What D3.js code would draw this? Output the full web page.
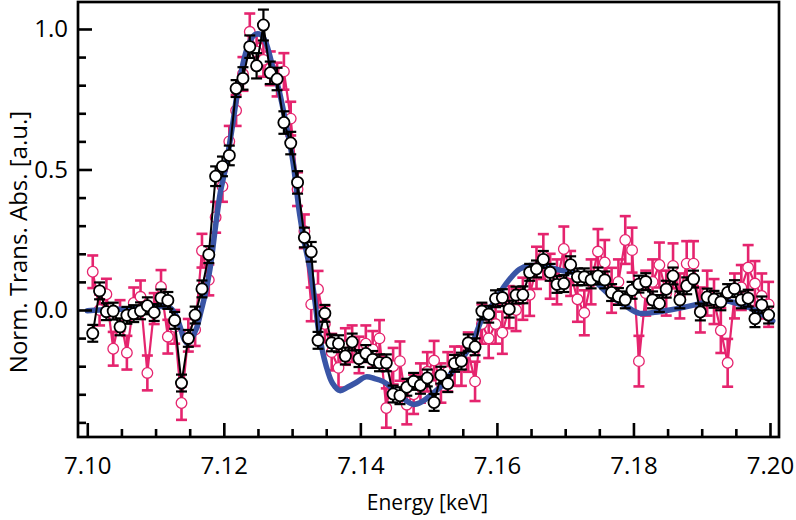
<!DOCTYPE html>
<html>
<head>
<meta charset="utf-8">
<script src="https://cdn.jsdelivr.net/npm/d3@7"></script>
<style>
  html, body { margin: 0; padding: 0; background: #ffffff; }
  svg { display: block; }
  text { font-family: "Open Sans", "Noto Sans", sans-serif; fill: #000; }
</style>
</head>
<body>
<svg id="chart" width="796" height="520"></svg>
<script>
// ---------- data ----------
const energy = [
  7.1008,7.1018,7.1028,7.1038,7.1048,7.1058,7.1068,7.1078,7.1088,7.1098,
  7.1108,7.1118,7.1128,7.1138,7.1148,7.1158,7.1168,7.1178,7.1188,7.1198,
  7.1208,7.1218,7.1228,7.1238,7.1248,7.1258,7.1268,7.1278,7.1288,7.1298,
  7.1308,7.1318,7.1328,7.1338,7.1348,7.1358,7.1368,7.1378,7.1388,7.1398,
  7.1408,7.1418,7.1428,7.1438,7.1448,7.1458,7.1468,7.1478,7.1488,7.1498,
  7.1508,7.1518,7.1528,7.1538,7.1548,7.1558,7.1568,7.1578,7.1588,7.1598,
  7.1608,7.1618,7.1628,7.1638,7.1648,7.1658,7.1668,7.1678,7.1688,7.1698,
  7.1708,7.1718,7.1728,7.1738,7.1748,7.1758,7.1768,7.1778,7.1788,7.1798,
  7.1808,7.1818,7.1828,7.1838,7.1848,7.1858,7.1868,7.1878,7.1888,7.1898,
  7.1908,7.1918,7.1928,7.1938,7.1948,7.1958,7.1968,7.1978,7.1988,7.1998
];

// black open circles (averaged measurement)
const blackValues = [
  -0.083, 0.068,-0.006,-0.004,-0.060,-0.019,-0.013,-0.003, 0.015,-0.009,
   0.043, 0.034,-0.037,-0.260,-0.101,-0.018, 0.075, 0.197, 0.476, 0.511,
   0.550, 0.788, 0.824, 0.937, 0.869, 1.014, 0.844, 0.822, 0.667, 0.594,
   0.454, 0.258, 0.207,-0.108,-0.012,-0.117,-0.120,-0.164,-0.114,-0.173,
  -0.155,-0.176,-0.188,-0.188,-0.299,-0.305,-0.275,-0.254,-0.268,-0.242,
  -0.329,-0.232,-0.262,-0.190,-0.182,-0.117,-0.131,-0.004,-0.015, 0.040,
   0.044, 0.003, 0.053, 0.054, 0.134, 0.146, 0.180, 0.134, 0.091, 0.094,
   0.161, 0.118, 0.118, 0.107, 0.121, 0.107, 0.062, 0.048, 0.036, 0.070,
   0.092, 0.101, 0.036, 0.023, 0.074, 0.121, 0.036, 0.086, 0.110,-0.007,
   0.046, 0.038, 0.029, 0.062, 0.076, 0.036, 0.042,-0.031, 0.018,-0.018
];
const blackErrors = [
  0.030,0.030,0.030,0.030,0.030,0.030,0.030,0.030,0.030,0.030,
  0.030,0.030,0.030,0.030,0.030,0.030,0.030,0.030,0.035,0.035,
  0.035,0.030,0.040,0.040,0.045,0.055,0.040,0.040,0.040,0.040,
  0.040,0.035,0.035,0.030,0.030,0.030,0.030,0.030,0.030,0.030,
  0.030,0.030,0.030,0.030,0.030,0.030,0.030,0.030,0.030,0.030,
  0.030,0.030,0.030,0.030,0.030,0.030,0.030,0.030,0.030,0.030,
  0.030,0.030,0.030,0.030,0.030,0.030,0.030,0.030,0.030,0.030,
  0.030,0.030,0.030,0.030,0.030,0.030,0.030,0.030,0.030,0.030,
  0.030,0.030,0.030,0.030,0.030,0.030,0.030,0.030,0.030,0.030,
  0.030,0.030,0.030,0.030,0.030,0.030,0.030,0.030,0.030,0.030
];

// pink open circles (single measurement)
const pinkValues = [
   0.136, 0.000, 0.056,-0.138,-0.020,-0.152, 0.025, 0.047,-0.224, 0.005,
   0.082,-0.095,-0.060,-0.331,-0.090,-0.070, 0.211, 0.107, 0.330, 0.440,
   0.600, 0.710, 0.840, 0.990, 0.920, 0.890, 0.860, 0.820, 0.849, 0.681,
   0.430, 0.280, 0.020, 0.074,-0.050,-0.150,-0.206,-0.130,-0.120,-0.160,
  -0.120,-0.140,-0.101,-0.349,-0.200,-0.182,-0.337,-0.300,-0.260,-0.220,
  -0.180,-0.260,-0.220,-0.200,-0.200,-0.150,-0.254,-0.050,-0.101,-0.050,
  -0.081, 0.010, 0.000, 0.040, 0.054, 0.150, 0.190, 0.120, 0.100, 0.217,
   0.130, 0.038,-0.010, 0.100, 0.208, 0.169, 0.070, 0.100, 0.249, 0.213,
  -0.182, 0.060, 0.100, 0.160, 0.060, 0.157, 0.050, 0.165, 0.165, 0.000,
   0.060, 0.030,-0.073,-0.188, 0.050, 0.080, 0.151, 0.094, 0.050, 0.020
];
const pinkErrors = [
  0.058,0.055,0.055,0.060,0.055,0.060,0.055,0.058,0.062,0.055,
  0.060,0.060,0.060,0.060,0.058,0.058,0.060,0.055,0.055,0.055,
  0.055,0.055,0.060,0.065,0.060,0.060,0.060,0.060,0.065,0.060,
  0.060,0.060,0.060,0.065,0.065,0.065,0.070,0.065,0.065,0.065,
  0.065,0.065,0.065,0.070,0.065,0.070,0.070,0.070,0.070,0.070,
  0.070,0.070,0.070,0.070,0.070,0.070,0.070,0.070,0.070,0.070,
  0.075,0.075,0.075,0.075,0.075,0.075,0.080,0.080,0.080,0.080,
  0.080,0.080,0.080,0.080,0.080,0.080,0.080,0.080,0.085,0.080,
  0.090,0.080,0.080,0.080,0.080,0.080,0.080,0.080,0.080,0.080,
  0.080,0.080,0.080,0.085,0.080,0.080,0.080,0.080,0.080,0.080
];

// blue theory curve
const theoryEnergy = [
  7.1000,7.1018,7.1047,7.1076,7.1106,7.1120,7.1129,7.1136,7.1142,7.1147,
  7.1152,7.1160,7.1166,7.1173,7.1180,7.1188,7.1195,7.1202,7.1211,7.1223,
  7.1235,7.1245,7.1254,7.1261,7.1271,7.1282,7.1292,7.1301,7.1311,7.1318,
  7.1326,7.1333,7.1340,7.1350,7.1359,7.1370,7.1381,7.1394,7.1408,7.1421,
  7.1433,7.1443,7.1455,7.1466,7.1478,7.1491,7.1504,7.1521,7.1535,7.1550,
  7.1565,7.1579,7.1594,7.1613,7.1633,7.1648,7.1670,7.1692,7.1714,7.1736,
  7.1751,7.1770,7.1790,7.1809,7.1831,7.1853,7.1875,7.1893,7.1912,7.1937,
  7.1956,7.1975,7.1996,7.2004
];
const theoryValues = [
  -0.003, 0.000, 0.003, 0.006, 0.012, 0.010,-0.015,-0.060,-0.105,-0.120,
  -0.105,-0.065,-0.010, 0.060, 0.150, 0.300, 0.420, 0.500, 0.630, 0.818,
   0.937, 0.979, 0.980, 0.955, 0.870, 0.770, 0.650, 0.532, 0.342, 0.240,
   0.150, 0.040,-0.090,-0.200,-0.260,-0.287,-0.275,-0.258,-0.238,-0.244,
  -0.254,-0.271,-0.300,-0.321,-0.336,-0.325,-0.301,-0.265,-0.218,-0.170,
  -0.111,-0.028, 0.020, 0.092, 0.145, 0.158, 0.155, 0.142, 0.132, 0.120,
   0.085, 0.044, 0.012,-0.012,-0.008, 0.000, 0.010, 0.020, 0.032, 0.032,
   0.020, 0.003,-0.027,-0.039
];

const xMajorTicks = [7.10, 7.12, 7.14, 7.16, 7.18, 7.20];
const xMinorTicks = [7.105,7.11,7.115,7.125,7.13,7.135,7.145,7.15,7.155,7.165,7.17,7.175,7.185,7.19,7.195];
const yMajorTicks = [0.0, 0.5, 1.0];
const yMinorTicks = [-0.4,-0.3,-0.2,-0.1,0.1,0.2,0.3,0.4,0.6,0.7,0.8,0.9];
const xTitle = "Energy [keV]";
const yTitle = "Norm. Trans. Abs. [a.u.]";

// ---------- drawing ----------
const W = 796, H = 520;
const margin = {left: 78, right: 17, top: 2, bottom: 83};
const svg = d3.select("#chart");
svg.append("rect").attr("width", W).attr("height", H).attr("fill", "#fff");

const x = d3.scaleLinear().domain([7.09864, 7.20132]).range([margin.left, W - margin.right]);
const y = d3.scaleLinear().domain([-0.452, 1.096]).range([H - margin.bottom, margin.top]);

const PINK = "#e5246e";
const BLUE = "#3a55a6";

svg.append("clipPath").attr("id", "clip").append("rect")
  .attr("x", margin.left).attr("y", margin.top)
  .attr("width", W - margin.left - margin.right)
  .attr("height", H - margin.top - margin.bottom);

const plot = svg.append("g").attr("clip-path", "url(#clip)");

const pinkData = energy.map((e, i) => ({e, v: pinkValues[i], err: pinkErrors[i]}));
const blackData = energy.map((e, i) => ({e, v: blackValues[i], err: blackErrors[i]}));
const theoryData = theoryEnergy.map((e, i) => ({e, v: theoryValues[i]}));

function errorBars(g, data, color, width, cap) {
  const eb = g.append("g").attr("stroke", color).attr("stroke-width", width).attr("fill", "none");
  eb.selectAll("line.v").data(data).join("line").attr("class", "v")
    .attr("x1", d => x(d.e)).attr("x2", d => x(d.e))
    .attr("y1", d => y(d.v - d.err)).attr("y2", d => y(d.v + d.err));
  eb.selectAll("line.t").data(data).join("line").attr("class", "t")
    .attr("x1", d => x(d.e) - cap).attr("x2", d => x(d.e) + cap)
    .attr("y1", d => y(d.v + d.err)).attr("y2", d => y(d.v + d.err));
  eb.selectAll("line.b").data(data).join("line").attr("class", "b")
    .attr("x1", d => x(d.e) - cap).attr("x2", d => x(d.e) + cap)
    .attr("y1", d => y(d.v - d.err)).attr("y2", d => y(d.v - d.err));
}

const lineGen = d3.line().x(d => x(d.e)).y(d => y(d.v));

// pink series
errorBars(plot, pinkData, PINK, 2.6, 5.5);
plot.append("path").datum(pinkData).attr("d", lineGen)
  .attr("fill", "none").attr("stroke", PINK).attr("stroke-width", 2.2);
plot.append("g").selectAll("circle").data(pinkData).join("circle")
  .attr("cx", d => x(d.e)).attr("cy", d => y(d.v)).attr("r", 5.3)
  .attr("fill", "#fff").attr("stroke", PINK).attr("stroke-width", 1.3);

// theory
plot.append("path").datum(theoryData)
  .attr("d", d3.line().x(d => x(d.e)).y(d => y(d.v)).curve(d3.curveCatmullRom.alpha(0.5)))
  .attr("fill", "none").attr("stroke", BLUE).attr("stroke-width", 5.5)
  .attr("stroke-linejoin", "round").attr("stroke-linecap", "round");

// black series
errorBars(plot, blackData, "#000", 2.2, 5.5);
plot.append("path").datum(blackData).attr("d", lineGen)
  .attr("fill", "none").attr("stroke", "#000").attr("stroke-width", 2);
plot.append("g").selectAll("circle").data(blackData).join("circle")
  .attr("cx", d => x(d.e)).attr("cy", d => y(d.v)).attr("r", 5.6)
  .attr("fill", "#fff").attr("stroke", "#000").attr("stroke-width", 1.8);

// axes
const xAxisMajor = svg.append("g").attr("transform", `translate(0,${H - margin.bottom})`)
  .call(d3.axisBottom(x).tickValues(xMajorTicks).tickSize(-14).tickPadding(20).tickFormat(d3.format(".2f")));
const xAxisMinor = svg.append("g").attr("transform", `translate(0,${H - margin.bottom})`)
  .call(d3.axisBottom(x).tickValues(xMinorTicks).tickSize(-8).tickFormat(""));
const yAxisMajor = svg.append("g").attr("transform", `translate(${margin.left},0)`)
  .call(d3.axisLeft(y).tickValues(yMajorTicks).tickSize(-14).tickPadding(10).tickFormat(d3.format(".1f")));
const yAxisMinor = svg.append("g").attr("transform", `translate(${margin.left},0)`)
  .call(d3.axisLeft(y).tickValues(yMinorTicks).tickSize(-8).tickFormat(""));

[xAxisMajor, xAxisMinor, yAxisMajor, yAxisMinor].forEach(g => {
  g.select(".domain").remove();
  g.selectAll(".tick line").attr("stroke", "#000").attr("stroke-width", 2.6);
  g.selectAll(".tick text").attr("font-family", "'Open Sans', sans-serif").attr("font-size", 24).attr("fill", "#000");
});

// frame
svg.append("rect")
  .attr("x", margin.left).attr("y", margin.top)
  .attr("width", W - margin.left - margin.right)
  .attr("height", H - margin.top - margin.bottom)
  .attr("fill", "none").attr("stroke", "#000").attr("stroke-width", 2.7);

// titles
svg.append("text")
  .attr("x", (margin.left + W - margin.right) / 2 - 1).attr("y", 510)
  .attr("text-anchor", "middle").attr("font-size", 21)
  .text(xTitle);
svg.append("text")
  .attr("transform", `translate(27,${242}) rotate(-90)`)
  .attr("text-anchor", "middle").attr("font-size", 24)
  .text(yTitle);
</script>
</body>
</html>
